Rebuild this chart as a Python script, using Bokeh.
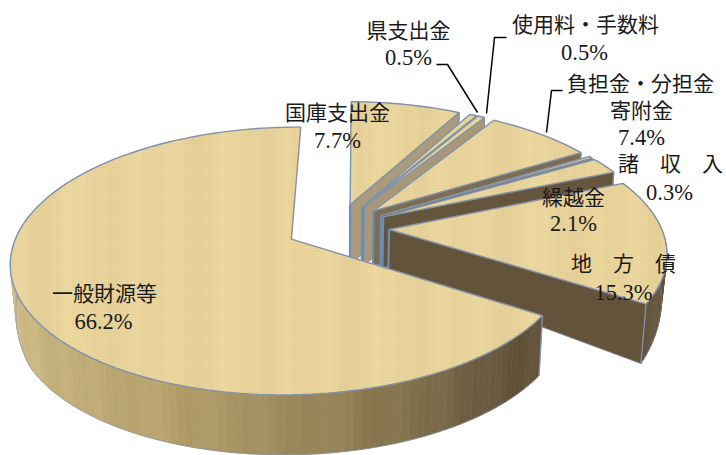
import numpy as np
from bokeh.core.properties import value
from bokeh.embed import file_html
from bokeh.models import Range1d
from bokeh.plotting import figure
from bokeh.resources import INLINE

# Share of each revenue source, clockwise from twelve o'clock (percent)
categories = ["国庫支出金", "県支出金", "使用料・手数料", "負担金・分担金寄附金",
              "諸収入", "繰越金", "地方債", "一般財源等"]
shares = [7.7, 0.5, 0.5, 7.4, 0.3, 2.1, 15.3, 66.2]

# Camera and pie geometry on the page, in pixels
CX, CY, RX, RY, PERSP, EXPLODE, ROTATE = 337, 227, 272, 126.5, 0.161, 0.19, 0.7

TOP_FILL = "#e9d49c"
EDGE = "#7f92aa"
EDGE_STRONG = "#6d8db5"
INK = "#1a1a1a"
LABEL_FONT = value("Liberation Serif, Noto Sans CJK JP")

# Tone offsets that give the wood its soft vertical bands
GRAIN = [0, 2, 3, 1, -2, -4, -3, -1, 2, 4, 2, 3, 0, -2, -1, -3, -2, 1, 3, 2, -1, 0]
COLUMN = 7


def project(u, v):
    w = 1 - PERSP * v
    return CX + RX * u / w, CY + RY * v / w


def drop(x, y):
    """Lower rim of the extruded disc under a point of the upper face."""
    d = np.where(y < 232, 38 + 0.8 * (232 - y), 38 + 0.3 * (y - 232))
    d = np.minimum(d, 60)
    return x - 0.017 * (x - 340), y + d


def rgb(c):
    return [int(c[i:i + 2], 16) for i in (1, 3, 5)]


def mix(a, b, t):
    t = min(max(t, 0), 1)
    return "#%02x%02x%02x" % tuple(round(p + (q - p) * t) for p, q in zip(rgb(a), rgb(b)))


def shade(c, delta):
    return "#%02x%02x%02x" % tuple(min(255, max(0, v + delta)) for v in rgb(c))


def wall_tone(theta):
    """Shading of a vertical face from its bearing in degrees."""
    stops = [(30, "#ab9b7c"), (58, "#7d6e55"), (66, "#65553d"), (135, "#63533b"),
             (165, "#8c7a52"), (200, "#b5a06c"), (245, "#cdb983"), (290, "#dcc892"),
             (370, "#dcc892")]
    for (a0, c0), (a1, c1) in zip(stops, stops[1:]):
        if theta <= a1:
            return mix(c0, c1, (theta - a0) / (a1 - a0))
    return stops[-1][1]


def crossings(poly_x, poly_y, x):
    """Sorted y positions where the closed outline crosses a vertical line."""
    out = []
    for j in range(len(poly_x)):
        x0, x1 = poly_x[j], poly_x[(j + 1) % len(poly_x)]
        y0, y1 = poly_y[j], poly_y[(j + 1) % len(poly_y)]
        if (x0 <= x < x1) or (x1 <= x < x0):
            out.append(y0 + (x - x0) * (y1 - y0) / (x1 - x0))
    return sorted(out)


def grain_bands(poly_x, poly_y):
    """Vertical tone bands trimmed to the outline of an upper face."""
    xs, ys, cols = [], [], []
    left = int(min(poly_x))
    for x0 in range(left, int(max(poly_x)) + 1, COLUMN):
        x1 = x0 + COLUMN
        c0, c1 = crossings(poly_x, poly_y, x0 + 0.01), crossings(poly_x, poly_y, x1 - 0.01)
        if len(c0) != len(c1):
            continue
        for k in range(0, len(c0) - 1, 2):
            xs.append([x0, x1, x1, x0])
            ys.append([c0[k], c1[k], c1[k + 1], c0[k + 1]])
            cols.append(shade(TOP_FILL, GRAIN[(x0 // COLUMN) % len(GRAIN)]))
    return xs, ys, cols


p = figure(width=726, height=455, x_range=Range1d(0, 726), y_range=Range1d(455, 0),
           output_backend="svg", toolbar_location=None, min_border=0)
p.axis.visible = False
p.grid.visible = False
p.outline_line_color = None
p.background_fill_color = "white"

cum = np.cumsum([0] + shares) * 3.6 + ROTATE
last = len(shares) - 1
for i in range(len(shares)):
    start, end = cum[i], cum[i + 1]
    mid = np.radians((start + end) / 2)
    eu, ev = EXPLODE * np.sin(mid), -EXPLODE * np.cos(mid)
    n = max(2, int((end - start) / 1.5) + 1)
    th = np.radians(np.linspace(start, end, n))
    ax, ay = project(eu, ev)
    rx, ry = project(eu + np.sin(th), ev - np.cos(th))
    bx, by = drop(rx, ry)
    apx, apy = drop(np.array(ax), np.array(ay))

    # Outer rim, quad by quad; the far rim of the large slice stays out of sight
    keep = np.degrees(th) < 300 if i == last else np.ones(n, bool)
    idx = np.flatnonzero(keep)
    xs = [[rx[j], rx[j + 1], bx[j + 1], bx[j]] for j in idx[:-1]]
    ys = [[ry[j], ry[j + 1], by[j + 1], by[j]] for j in idx[:-1]]
    cols = [shade(wall_tone((np.degrees(th[j]) + np.degrees(th[j + 1])) / 2), GRAIN[j % len(GRAIN)])
            for j in idx[:-1]]
    p.patches(xs, ys, fill_color=cols, line_color=cols, line_width=0.7)
    p.line(bx[idx], by[idx], line_color=EDGE, line_width=1, line_alpha=0.6)

    # Cut face that looks towards the viewer; the large slice hides its own
    if i != last:
        tone = wall_tone(end)
        p.patch([ax, rx[-1], bx[-1], apx], [ay, ry[-1], by[-1], apy],
                fill_color=tone, line_color=tone, line_width=0.5)
        p.line([ax, apx], [ay, apy], line_color=EDGE_STRONG, line_width=2.2)
        p.line([apx, bx[-1]], [apy, by[-1]], line_color=EDGE, line_width=1, line_alpha=0.6)
        p.line([rx[-1], bx[-1]], [ry[-1], by[-1]], line_color=EDGE, line_width=1.4)
    else:
        p.line([rx[0], bx[0]], [ry[0], by[0]], line_color=EDGE, line_width=1.4)

    # Upper face: base fill, wood bands, then the outline on top
    outline_x, outline_y = [ax, *rx], [ay, *ry]
    p.patch(outline_x, outline_y, fill_color=TOP_FILL, line_color=None)
    gx, gy, gc = grain_bands(outline_x, outline_y)
    if gx:
        p.patches(gx, gy, fill_color=gc, line_color=gc, line_width=0.3)
    p.patch(outline_x, outline_y, fill_color=None, line_color=EDGE, line_width=1.4,
            hatch_pattern="horizontal_line", hatch_color="#c9b27a", hatch_alpha=0.2,
            hatch_scale=3, hatch_weight=0.6)

# Leader lines
p.line([436, 447, 477], [64, 64, 112], line_color="black", line_width=1.5)
p.line([506, 494, 486], [37, 37, 113], line_color="black", line_width=1.5)
p.line([562, 551, 546], [90, 90, 132], line_color="black", line_width=1.5)

# Labels: one entry per text line
name_lines = [
    ("国庫支出金", 337, 112), ("県支出金", 408, 30), ("使用料・手数料", 585, 24),
    ("負担金・分担金", 640, 83), ("寄附金", 641, 110), ("諸　収　入", 670, 163),
    ("繰越金", 573, 197), ("地　方　債", 623, 263), ("一般財源等", 104, 293),
]
share_lines = [
    (f"{shares[0]}%", 337, 140), (f"{shares[1]}%", 408, 57), (f"{shares[2]}%", 584, 52),
    (f"{shares[3]}%", 641, 137), (f"{shares[4]}%", 669, 192), (f"{shares[5]}%", 573, 223),
    (f"{shares[6]}%", 623, 292), (f"{shares[7]}%", 103, 321),
]
for lines, size in ((name_lines, "21px"), (share_lines, "22.5px")):
    p.text([t[1] for t in lines], [t[2] for t in lines], [t[0] for t in lines],
           text_font=LABEL_FONT, text_font_size=size, text_align="center",
           text_baseline="middle", text_color=INK)

open("out.html", "w").write(file_html(p, INLINE))
